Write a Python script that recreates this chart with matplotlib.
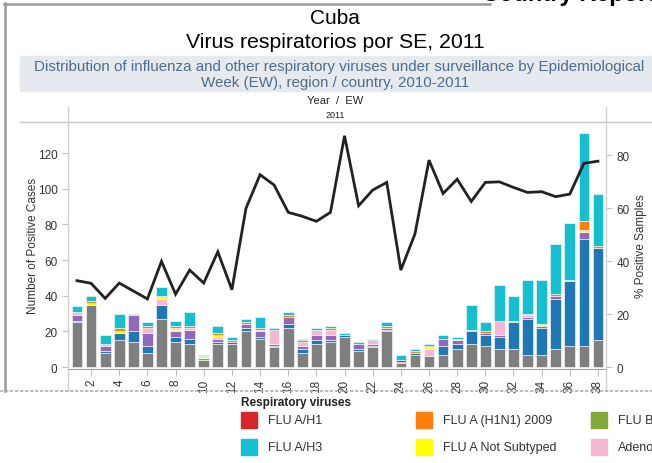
import numpy as np
import matplotlib.pyplot as plt
from matplotlib.patches import Rectangle
from matplotlib.lines import Line2D

plt.rcParams['font.family'] = ['Liberation Sans', 'DejaVu Sans']

# epidemiological weeks 2011
weeks = np.arange(1, 39)

# positive cases by virus, stacked bottom -> top
other = [25, 35, 8, 15, 14, 8, 27, 14, 13, 4, 13, 13, 20, 16, 11, 22, 8, 13, 14, 17,
         9, 11, 20, 2, 7, 6, 7, 10, 13, 12, 10, 10, 7, 7, 10, 12, 12, 15]
rsv = [1, 0, 1, 4, 6, 4, 8, 3, 3, 0, 1, 1, 2, 1, 1, 2, 2, 2, 1, 1,
       1, 1, 1, 1, 1, 0, 5, 3, 7, 6, 7, 15, 20, 15, 28, 36, 60, 52]
parainfluenza = [3, 0, 3, 0, 9, 7, 0, 3, 5, 0, 2, 0, 2, 3, 1, 4, 2, 3, 3, 0,
                 3, 1, 1, 0, 0, 0, 4, 2, 0, 1, 1, 0, 1, 1, 2, 0, 4, 0]
adenovirus = [2, 0, 1, 0, 0, 3, 3, 1, 1, 0, 1, 0, 0, 1, 8, 0, 2, 3, 3, 0,
              0, 2, 0, 0, 0, 4, 0, 1, 0, 0, 8, 0, 1, 0, 0, 0, 0, 0]
flu_b = [0, 0, 0, 0, 0, 0, 0, 0, 0, 1, 0, 0, 0, 0, 0, 0, 0, 0, 0, 0,
         0, 0, 0, 0, 0, 0, 0, 0, 0, 0, 0, 1, 0, 0, 0, 0, 0, 0]
flu_a_nst = [0, 1, 0, 1, 0, 0, 1, 1, 0, 1, 1, 0, 0, 0, 0, 0, 0, 0, 0, 0,
             0, 0, 0, 0, 0, 1, 0, 0, 0, 0, 0, 0, 0, 1, 0, 0, 1, 0]
flu_h1n1_2009 = [0, 1, 0, 2, 0, 1, 1, 1, 1, 0, 1, 1, 1, 1, 0, 1, 1, 0, 1, 0,
                 0, 0, 1, 0, 1, 1, 0, 0, 1, 1, 0, 0, 1, 0, 1, 1, 5, 1]
flu_a_h1 = [0, 0, 0, 0, 0, 0, 0, 0, 0, 0, 0, 0, 0, 0, 0, 0, 0, 0, 0, 0,
            0, 0, 0, 1, 0, 0, 0, 0, 0, 0, 0, 0, 0, 0, 0, 0, 0, 0]
flu_a_h3 = [3, 3, 5, 8, 1, 2, 5, 3, 8, 1, 4, 2, 2, 6, 1, 2, 1, 1, 1, 1,
            1, 1, 2, 3, 1, 1, 2, 1, 14, 5, 20, 14, 19, 25, 28, 32, 49, 29]

# % positive samples (right axis)
pct_positive = [32.6, 31.6, 25.9, 31.7, 28.7, 25.7, 39.9, 27.5, 36.6, 31.7,
                43.5, 29.2, 59.9, 72.6, 68.7, 58.4, 56.9, 55.0, 58.4, 87.3,
                60.9, 66.8, 69.7, 36.6, 50.2, 78.1, 65.5, 70.9, 62.5, 69.7,
                69.9, 67.8, 65.9, 66.2, 64.3, 65.3, 76.9, 77.7]

stack = [other, rsv, parainfluenza, adenovirus, flu_b, flu_a_nst,
         flu_h1n1_2009, flu_a_h1, flu_a_h3]
stack_colors = ['#7f7f7f', '#1f77b4', '#9467bd', '#f7b6d2', '#84a83a', '#ffff00',
                '#ff7f0e', '#d62728', '#17becf']

legend_labels = ['FLU A/H1', 'FLU A/H3', 'FLU A (H1N1) 2009', 'FLU A Not Subtyped',
                 'FLU B', 'Adenovirus']
legend_colors = ['#d62728', '#17becf', '#ff7f0e', '#ffff00', '#84a83a', '#f7b6d2']

W, H = 652, 464
fig = plt.figure(figsize=(W / 100, H / 100), dpi=100)


# pixel -> figure fraction helpers
def fx(px):
    return px / W


def fy(py):
    return 1 - py / H


def hline(y, x0, x1, **kw):
    fig.add_artist(Line2D([fx(x0), fx(x1)], [fy(y), fy(y)], transform=fig.transFigure, **kw))


def vline(x, y0, y1, **kw):
    fig.add_artist(Line2D([fx(x), fx(x)], [fy(y0), fy(y1)], transform=fig.transFigure, **kw))


# header
fig.text(fx(482), fy(1), 'Country Report', fontsize=17, fontweight='bold', color='black',
         ha='left', va='baseline')
hline(5, 4, 490, color='#9a9a9a', lw=1.8)
vline(5, 4, 392, color='#9a9a9a', lw=1.8)
fig.text(fx(335), fy(18), 'Cuba', fontsize=15, ha='center', va='center')
fig.text(fx(335), fy(43), 'Virus respiratorios por SE, 2011', fontsize=15.3, ha='center', va='center')
fig.add_artist(Rectangle((fx(20), fy(92)), fx(652) - fx(20), fy(57) - fy(92),
                         transform=fig.transFigure, color='#e6e9ee', zorder=0))
fig.text(fx(339), fy(67), 'Distribution of influenza and other respiratory viruses under surveillance by Epidemiological',
         fontsize=10.9, color='#4d6d8d', ha='center', va='center')
fig.text(fx(335), fy(83), 'Week (EW), region / country, 2010-2011',
         fontsize=10.9, color='#4d6d8d', ha='center', va='center')
fig.text(fx(335), fy(101), 'Year  /  EW', fontsize=8, color='#222222', ha='center', va='center')
fig.text(fx(335), fy(116), '2011', fontsize=6.5, color='#222222', ha='center', va='center')
hline(123, 20, 652, color='#c8c8c8', lw=1)
vline(68, 108, 392, color='#d0d0d0', lw=1)
vline(606, 108, 392, color='#d0d0d0', lw=1)

# main chart
ax = fig.add_axes([fx(68), fy(370), fx(606) - fx(68), fy(123) - fy(370)])
bottom = np.zeros(len(weeks))
for vals, color in zip(stack, stack_colors):
    vals = np.array(vals, dtype=float)
    nz = vals > 0
    ax.bar(weeks[nz], vals[nz], width=0.76, bottom=bottom[nz], color=color,
           edgecolor='white', linewidth=0.4)
    bottom += vals

ax.set_xlim(0.36, 38.57)
ax.set_ylim(-1.1, 137.4)
ax.set_yticks(range(0, 121, 20))
ax.set_xticks(weeks[1::2])
ax.set_xticklabels([str(w) for w in weeks[1::2]], rotation=90)
for side in ['top', 'right', 'left']:
    ax.spines[side].set_visible(False)
ax.spines['bottom'].set_color('#a0a0a0')
ax.tick_params(axis='y', colors='#c0c0c0', labelcolor='#333333', labelsize=8.5, length=4, width=0.8)
ax.tick_params(axis='x', colors='#c0c0c0', labelcolor='#333333', labelsize=8.5, length=5, width=0.8, pad=2)

ax2 = ax.twinx()
ax2.plot(weeks, pct_positive, color='#222222', lw=2, solid_joinstyle='miter')
ax2.set_ylim(-0.75, 92.5)
ax2.set_yticks(range(0, 81, 20))
for side in ['top', 'right', 'left', 'bottom']:
    ax2.spines[side].set_visible(False)
ax2.tick_params(axis='y', colors='#c0c0c0', labelcolor='#333333', labelsize=8.5, length=4, width=0.8)

fig.text(fx(33), fy(246), 'Number of Positive Cases', fontsize=8.5, color='#333333',
         rotation=90, ha='center', va='center')
fig.text(fx(641), fy(246), '% Positive Samples', fontsize=8.5, color='#333333',
         rotation=90, ha='center', va='center')

# legend
hline(392, 0, 652, color='#b0b0b0', lw=1.2, linestyle=(0, (2, 1)))
fig.text(fx(241), fy(403), 'Respiratory viruses', fontsize=8.5, fontweight='bold',
         color='#222222', ha='left', va='center')
for i, (label, color) in enumerate(zip(legend_labels, legend_colors)):
    col, row = divmod(i, 2)
    x0 = 241 + col * 175
    yc = 421 + row * 27
    fig.add_artist(Rectangle((fx(x0), fy(yc + 8)), fx(16), 16 / H,
                             transform=fig.transFigure, color=color))
    fig.text(fx(x0 + 27), fy(yc), label, fontsize=9, color='#333333', ha='left', va='center')

fig.savefig('out.png', dpi=100)
